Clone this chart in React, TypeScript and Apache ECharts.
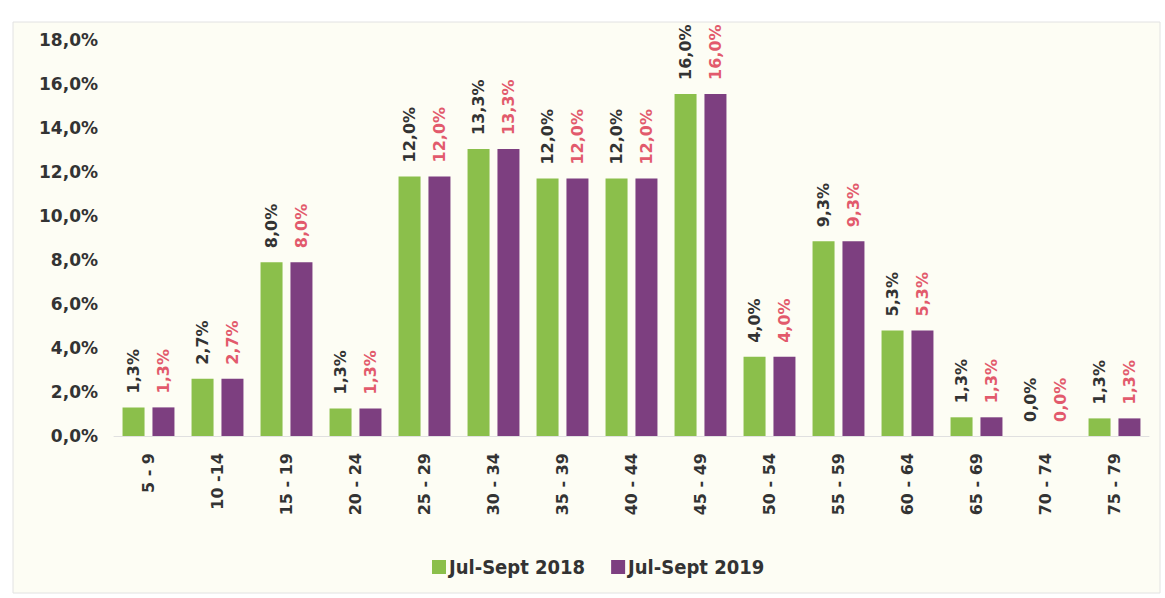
import React, { useEffect, useRef } from "react";
import * as echarts from "echarts";

const categories = [
  "5 - 9", "10 -14", "15 - 19", "20 - 24", "25 - 29", "30 - 34", "35 - 39", "40 - 44",
  "45 - 49", "50 - 54", "55 - 59", "60 - 64", "65 - 69", "70 - 74", "75 - 79",
];
// bar heights as drawn (percent)
const values2018 = [1.3, 2.6, 7.9, 1.25, 11.8, 13.05, 11.7, 11.7, 15.55, 3.6, 8.85, 4.8, 0.85, 0, 0.8];
const values2019 = [1.3, 2.6, 7.9, 1.25, 11.8, 13.05, 11.7, 11.7, 15.55, 3.6, 8.85, 4.8, 0.85, 0, 0.8];
// printed data labels
const labels2018 = ["1,3%", "2,7%", "8,0%", "1,3%", "12,0%", "13,3%", "12,0%", "12,0%", "16,0%", "4,0%", "9,3%", "5,3%", "1,3%", "0,0%", "1,3%"];
const labels2019 = ["1,3%", "2,7%", "8,0%", "1,3%", "12,0%", "13,3%", "12,0%", "12,0%", "16,0%", "4,0%", "9,3%", "5,3%", "1,3%", "0,0%", "1,3%"];
const seriesNames = ["Jul-Sept 2018", "Jul-Sept 2019"];

const GREEN = "#8bbf4b";
const PURPLE = "#7d3f80";
const RED = "#e25a6c";
const DARK = "#333333";
const FONT = "'DejaVu Sans', sans-serif";

export default function App() {
  const ref = useRef<HTMLDivElement>(null);
  useEffect(() => {
    document.body.style.margin = "0";
    const chart = echarts.init(ref.current!, null, { renderer: "svg" });
    const labelCommon = {
      show: true,
      position: "top" as const,
      rotate: 90,
      align: "left" as const,
      verticalAlign: "middle" as const,
      distance: 14,
      fontFamily: FONT,
      fontWeight: "bold" as const,
      fontSize: 16,
    };
    chart.setOption({
      animation: false,
      backgroundColor: "#ffffff",
      graphic: [
        {
          type: "rect",
          z: -10,
          silent: true,
          shape: { x: 13, y: 22, width: 1147, height: 571 },
          style: { fill: "#fdfdf4", stroke: "#e2e2e2", lineWidth: 1 },
        },
      ],
      grid: { left: 114, right: 16, top: 40, bottom: 162, outerBoundsMode: "none" },
      legend: {
        left: 432,
        top: 557,
        padding: 0,
        itemWidth: 14,
        itemHeight: 14,
        itemGap: 26,
        icon: "rect",
        textStyle: {
          fontFamily: "'Liberation Sans Narrow', 'DejaVu Sans Condensed', sans-serif",
          fontWeight: "bold",
          fontSize: 20,
          color: DARK,
          padding: [0, 0, 0, -2],
        },
        data: seriesNames,
      },
      xAxis: {
        type: "category",
        data: categories,
        axisLine: { show: true, lineStyle: { color: "#e0e0e0" } },
        axisTick: { show: false },
        axisLabel: {
          rotate: 90,
          margin: 17,
          fontFamily: FONT,
          fontWeight: "bold",
          fontSize: 16,
          color: DARK,
        },
      },
      yAxis: {
        type: "value",
        min: 0,
        max: 18,
        interval: 2,
        splitLine: { show: false },
        axisLine: { show: false },
        axisTick: { show: false },
        axisLabel: {
          margin: 16,
          fontFamily: FONT,
          fontWeight: "bold",
          fontSize: 17,
          color: DARK,
          formatter: (v: number) => v.toFixed(1).replace(".", ",") + "%",
        },
      },
      series: [
        {
          name: seriesNames[0],
          type: "bar",
          data: values2018,
          barWidth: 22,
          barGap: "36%",
          itemStyle: { color: GREEN },
          label: {
            ...labelCommon,
            color: DARK,
            formatter: (p: any) => labels2018[p.dataIndex],
          },
        },
        {
          name: seriesNames[1],
          type: "bar",
          data: values2019,
          barWidth: 22,
          barGap: "36%",
          itemStyle: { color: PURPLE },
          label: {
            ...labelCommon,
            color: RED,
            formatter: (p: any) => labels2019[p.dataIndex],
          },
        },
      ],
    });
    return () => chart.dispose();
  }, []);
  return <div ref={ref} style={{ width: 1165, height: 598 }} />;
}
